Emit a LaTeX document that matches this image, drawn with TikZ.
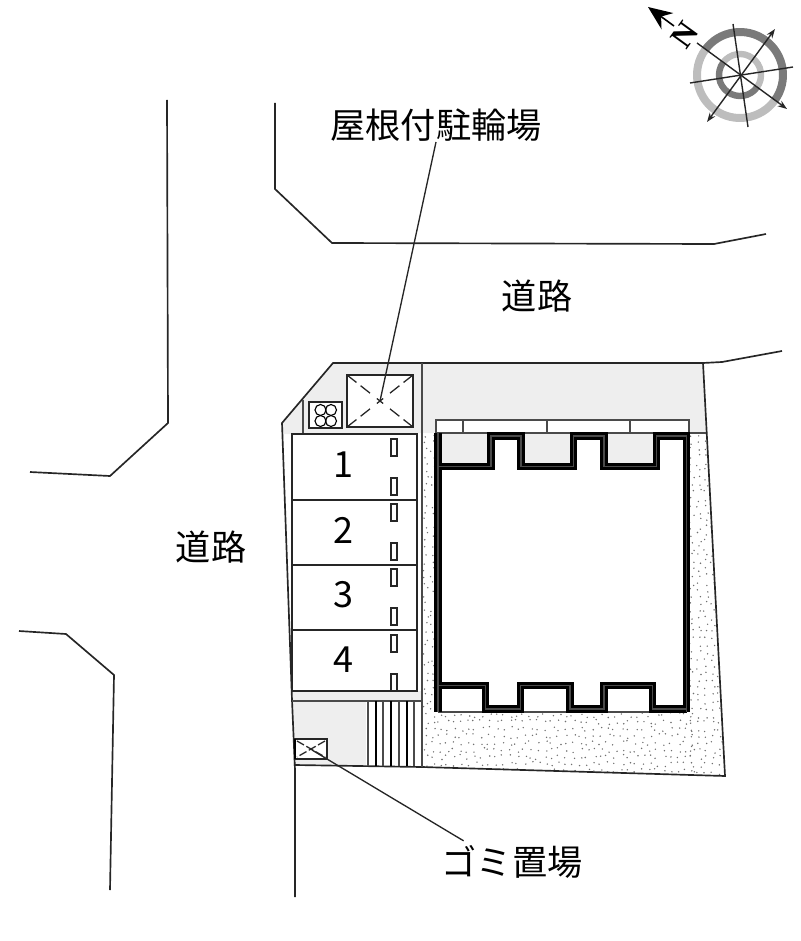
\documentclass[tikz,border=0pt]{standalone}
\usepackage{fontspec}
\setmainfont{Noto Sans CJK JP}
\newfontfamily\nfont{Liberation Serif}
\usetikzlibrary{arrows.meta}
\definecolor{lotgray}{HTML}{EEEEEE}
\definecolor{linegray}{HTML}{4A4A4A}
\definecolor{dotgray}{HTML}{707070}
\definecolor{ringdark}{HTML}{7A7A7A}
\definecolor{ringlight}{HTML}{BDBDBD}
\tikzset{
    plan/.style={line width=1.25pt,black!85},
    thinplan/.style={line width=0.95pt,black!85},
    grayplan/.style={line width=1.2pt,linegray},
    wall/.style={line width=2.35pt,black,double=linegray,double distance=0.9pt,line join=miter},
    mark box/.style={line width=1.3pt,black!85,fill=white},
    label/.style={font=\fontsize{26.4}{26.4}\selectfont,inner sep=0.5pt,outer sep=0pt},
    digit/.style={font=\fontsize{27}{27}\selectfont,inner sep=0pt},
    leader/.style={line width=1pt,black!85},
    compass/.style={line width=1.05pt,black!85},
}
\begin{document}
\begin{tikzpicture}[x=0.75pt,y=-0.75pt]
    \useasboundingbox (0,0) rectangle (800,941);
    % roads
    \draw[plan] (167,100) -- (168,423) -- (110,476) -- (30,472);
    \draw[plan] (19,631) -- (66,634) -- (114,675) -- (110,890);
    \draw[plan] (275,103) -- (275,189) -- (332,243) -- (714,244) -- (766,234);
    % gray ground
    \fill[lotgray] (333,363) -- (703,363) -- (706,433) -- (291,433) -- (291,434) -- (283,434) -- (283,423) -- cycle;
    \fill[lotgray] (292,691) rectangle (422,701);
    \fill[lotgray] (293,701) rectangle (366,766);
    % stipple
    \begin{scope}
        \clip (422,433) -- (706,433) -- (725,776) -- (422,767) -- cycle;
        \pgfmathsetseed{11}
        \foreach \x in {426,433} {
            \foreach \y in {436,443,...,712} {
                \fill[dotgray] (\x+5*rnd-2.5,\y+5*rnd-2.5) circle (0.8);
            }
        }
        \foreach \x in {692,699,...,727} {
            \foreach \y in {436,443,...,776} {
                \fill[dotgray] (\x+5*rnd-2.5,\y+5*rnd-2.5) circle (0.8);
            }
        }
        \foreach \x in {426,433,...,692} {
            \foreach \y in {715,722,...,776} {
                \fill[dotgray] (\x+5*rnd-2.5,\y+5*rnd-2.5) circle (0.8);
            }
        }
    \end{scope}
    % lot outline
    \draw[plan] (782,351) -- (722,362) -- (703,363) -- (333,363) -- (282,423) -- (292,700) -- (295,770) -- (295,897);
    \draw[plan] (703,363) -- (725,776) -- (422,767) -- (295,765);
    \draw[grayplan] (422,363) -- (422,767);
    \draw[grayplan] (303,400) -- (303,433);
    \draw[grayplan] (292,701) -- (422,701);
    \draw[grayplan] (689,433) -- (706,433);
    % parking
    \foreach \n/\ytop/\ybot in {1/434/500,2/500/565,3/565/630,4/630/691} {
        \draw[thinplan] (292,\ytop) rectangle (417,\ybot);
    }
    \foreach \ytop in {439,504,569,635} {
        \draw[thinplan,fill=white] (391,\ytop) rectangle (397,\ytop+17);
        \draw[thinplan,fill=white] (391,\ytop+39) rectangle (397,\ytop+56);
    }
    \node[digit] (slot1) at (343,465) {1};
    \node[digit] (slot2) at (343,530) {2};
    \node[digit] (slot3) at (343,595) {3};
    \node[digit] (slot4) at (343,660) {4};
    % stairs
    \foreach \x/\c in {368/linegray,376/black,383/linegray,391/black,399/linegray,407/black,414/linegray} {
        \draw[line width=1.05pt,\c] (\x,701) -- (\x,766);
    }
    % meter box
    \draw[mark box] (309,402) rectangle (342,428);
    \foreach \x/\y in {320.5/410,331/410,320.5/421,331/421} {
        \draw[line width=0.85pt] (\x,\y) circle (5.5);
    }
    % bicycle shed
    \draw[mark box] (347,375) rectangle (413,427);
    \draw[thinplan,dash pattern=on 9pt off 4pt on 9pt off 6.5pt on 6pt off 6.5pt on 9pt off 4pt on 9pt off 9pt] (347,375) -- (413,427);
    \draw[thinplan,dash pattern=on 9pt off 4pt on 9pt off 6.5pt on 6pt off 6.5pt on 9pt off 4pt on 9pt off 9pt] (413,375) -- (347,427);
    % trash box
    \draw[mark box] (295,739) rectangle (327,759);
    \draw[line width=1.8pt] (295,739) -- (295,759);
    \draw[thinplan,dashed,dash pattern=on 6pt off 2pt] (297,741) -- (325,757);
    \draw[thinplan,dashed,dash pattern=on 6pt off 2pt] (325,741) -- (297,757);
    % building
    \fill[white] (438,433) rectangle (687,712);
    \fill[lotgray] (441,434) rectangle (488,463);
    \fill[lotgray] (524,434) rectangle (570,463);
    \fill[lotgray] (607,434) rectangle (653,463);
    \draw[grayplan,fill=white] (436,420) rectangle (689,433);
    \draw[grayplan] (463,420) -- (463,433);
    \draw[grayplan] (547,420) -- (547,433);
    \draw[grayplan] (630,420) -- (630,433);
    \draw[grayplan] (438,712) -- (687,712);
    \draw[wall] (438,433) -- (438,712)
        (438,466.5) -- (491,466.5) -- (491,436) -- (521,436) -- (521,466.5) -- (573.5,466.5) -- (573.5,436)
        -- (604,436) -- (604,466.5) -- (656.5,466.5) -- (656.5,436) -- (686.5,436) -- (686.5,712)
        (686.5,709) -- (652.5,709) -- (652.5,685.5) -- (604,685.5) -- (604,709) -- (570,709) -- (570,685.5)
        -- (520.5,685.5) -- (520.5,709) -- (485.5,709) -- (485.5,685.5) -- (438,685.5);
    % labels
    \node[label] (shedlabel) at (436,125) {屋根付駐輪場};
    \node[label] (roadnorth) at (537,296) {道路};
    \node[label] (roadwest) at (211,547) {道路};
    \node[label] (trashlabel) at (512,862) {ゴミ置場};
    \coordinate (shedmark) at (380,401);
    \coordinate (trashmark) at (312,750);
    \draw[leader] (shedlabel.south) -- (shedmark);
    \draw[leader] (trashmark) -- ([xshift=17pt,yshift=3pt]trashlabel.north west);
    % compass
    \draw[line width=6pt,ringdark] (740,75) ++(216:43) arc (216:396:43);
    \draw[line width=6pt,ringlight] (740,75) ++(36:43) arc (36:216:43);
    \draw[line width=4.8pt,ringdark] (740,75) ++(36:21) arc (36:216:21);
    \draw[line width=4.8pt,ringlight] (740,75) ++(216:21) arc (216:396:21);
    \draw[compass,-{Stealth[length=7pt,width=5pt]}] (697,43) -- (787,109);
    \draw[compass,{Stealth[length=7pt,width=5pt]}-{Stealth[length=7pt,width=5pt]}] (707,122) -- (775,29);
    \draw[compass] (733,24) -- (748,127);
    \draw[compass] (690,83) -- (793,67);
    \coordinate (northtail) at (674,26);
    \coordinate (northtip) at (648,7);
    \draw[line width=1.2pt,-{Stealth[length=18pt,width=15pt]}] (northtail) -- (northtip);
    \node[font=\nfont\bfseries\fontsize{24}{24}\selectfont,rotate=54,inner sep=0pt] (northmark) at (685,35) {N};
\end{tikzpicture}
\end{document}
